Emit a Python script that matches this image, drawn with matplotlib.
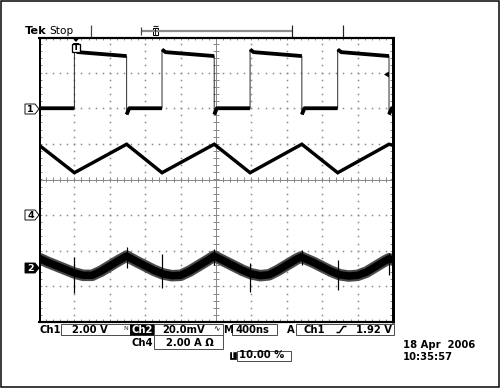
import numpy as np
import matplotlib
matplotlib.use("Agg")
import matplotlib.pyplot as plt
from matplotlib.collections import LineCollection
from matplotlib.patches import Rectangle, Polygon

plt.rcParams['font.family'] = ['DejaVu Sans']

# ---------------- scope settings ----------------
time_per_div = 400.0          # ns / div
trigger_pct = 10.0            # trigger position, % of record
ch1_scale, ch1_pos = 2.0, 2.0     # V/div, offset in divisions
ch2_scale, ch2_pos = 20.0, -2.5   # mV/div
ch4_scale, ch4_pos = 2.0, -1.0    # A/div

# ---------------- data ----------------
# Ch1 : switch node voltage (V) vs time (ns)
ch1_t = [-400, 0, 0, 40, 590, 590, 620,
         990, 990, 1030, 1580, 1580, 1610,
         1985, 1985, 2025, 2570, 2570, 2600,
         2975, 2975, 3015, 3555, 3555, 3585, 3600]
ch1_v = [0.0, 0.0, 3.3, 3.15, 2.93, -0.35, 0.0,
         0.0, 3.3, 3.15, 2.93, -0.35, 0.0,
         0.0, 3.3, 3.15, 2.93, -0.35, 0.0,
         0.0, 3.3, 3.15, 2.93, -0.35, 0.0, 0.0]

# Ch4 : inductor current (A)
ch4_t = [-400, 0, 590, 990, 1580, 1985, 2570, 2975, 3555, 3600]
ch4_i = [3.93, 2.38, 3.98, 2.38, 3.98, 2.38, 3.98, 2.38, 3.98, 3.92]

# Ch2 : output ripple (mV), centre of the noisy trace
ch2_t = [-400, -300, -200, -100, 0, 100, 200, 300, 400, 500, 590,
         700, 800, 900, 1000, 1100, 1200, 1300, 1400, 1500, 1580,
         1700, 1800, 1900, 2000, 2100, 2200, 2300, 2400, 2500, 2560,
         2700, 2800, 2900, 3000, 3100, 3200, 3300, 3400, 3500, 3555, 3600]
ch2_mv = [5.8, 3.5, 1.5, -0.5, -2.5, -3.8, -3.8, -1.5, 1.5, 4.5, 7.0,
          4.0, 1.5, -1.0, -3.0, -4.0, -3.8, -1.5, 1.5, 4.5, 7.0,
          4.0, 1.5, -1.0, -3.0, -4.0, -3.5, -1.0, 2.0, 5.0, 6.5,
          3.5, 1.0, -1.5, -3.5, -4.2, -3.8, -2.0, 1.0, 4.0, 5.5, 5.0]
# switching spikes on Ch2 (mV)
spike_t = [0, 590, 990, 1580, 1985, 2570, 2975, 3555]
spike_hi = [6.5, 12.1, 8.4, 11.2, 3.0, 10.3, 4.7, 8.8]
spike_lo = [-13.7, 0.2, -11.1, 1.9, -13.1, 1.9, -12.2, -3.8]

# ---------------- figure ----------------
W, H = 500, 388
fig = plt.figure(figsize=(W / 100, H / 100), dpi=100)
fig.patch.set_facecolor('white')

L, R, T, B = 39, 393, 37, 322
ax = fig.add_axes([L / W, 1 - B / H, (R - L) / W, (B - T) / H])
x0 = -trigger_pct / 100 * 10 * time_per_div
x1 = x0 + 10 * time_per_div
ax.set_xlim(x0, x1)
ax.set_ylim(-4, 4)
ax.axis('off')

PX = 0.72  # points per pixel
gcol = '#8a8a8a'

# dotted graticule
for k in range(1, 10):
    if k == 5:
        continue
    xg = x0 + k * time_per_div
    yy = np.arange(-3.8, 3.81, 0.2)
    ax.plot(np.full_like(yy, xg), yy, ls='none', marker='s', ms=1.1, mew=0, color=gcol)
for j in [-3, -2, -1, 1, 2, 3]:
    xx = np.arange(x0 + 80, x1 - 79, 80)
    ax.plot(xx, np.full_like(xx, j), ls='none', marker='s', ms=1.1, mew=0, color=gcol)

# centre crosshair with ticks
xc = x0 + 5 * time_per_div
ax.plot([x0, x1], [0, 0], color=gcol, lw=1 * PX)
ax.plot([xc, xc], [-4, 4], color=gcol, lw=1 * PX)
segs = []
for xt in np.arange(x0 + 80, x1 - 79, 80):
    segs.append([(xt, -0.075), (xt, 0.075)])
    segs.append([(xt, 4), (xt, 3.91)])
    segs.append([(xt, -4), (xt, -3.91)])
for yt in np.arange(-3.8, 3.81, 0.2):
    segs.append([(xc - 30, yt), (xc + 30, yt)])
    segs.append([(x0, yt), (x0 + 36, yt)])
    segs.append([(x1, yt), (x1 - 36, yt)])
ax.add_collection(LineCollection(segs, colors=gcol, linewidths=1 * PX))

# ---- traces ----
t1 = np.array(ch1_t, float)
d1 = np.array(ch1_v) / ch1_scale + ch1_pos
ax.plot(t1, d1, color='#303030', lw=1.0 * PX, zorder=5)
tt, vv = [], []
for i in range(len(t1)):
    if i > 0 and t1[i] == t1[i - 1]:
        tt.append(np.nan); vv.append(np.nan)
    tt.append(t1[i]); vv.append(d1[i])
ax.plot(tt, vv, color='black', lw=3.8 * PX, solid_capstyle='butt', zorder=6)

d4 = np.array(ch4_i) / ch4_scale + ch4_pos
ax.plot(ch4_t, d4, color='black', lw=3.4 * PX, solid_joinstyle='miter', zorder=6)

d2 = np.array(ch2_mv) / ch2_scale + ch2_pos
ax.plot(ch2_t, d2, color='#4a4a4a', lw=11.5 * PX, zorder=5, solid_capstyle='butt')
ax.plot(ch2_t, d2, color='black', lw=7.5 * PX, zorder=6, solid_capstyle='butt')
ssegs = [[(t, lo / ch2_scale + ch2_pos), (t, hi / ch2_scale + ch2_pos)]
         for t, lo, hi in zip(spike_t, spike_lo, spike_hi)]
ax.add_collection(LineCollection(ssegs, colors='black', linewidths=1.2 * PX, zorder=7))

# ---------------- overlay (pixel coordinates) ----------------
ov = fig.add_axes([0, 0, 1, 1])
ov.set_xlim(0, W)
ov.set_ylim(H, 0)
ov.axis('off')
ov.set_zorder(10)

def line(xs, ys, lw=1, c='black'):
    ov.plot(xs, ys, color=c, lw=lw * PX, solid_capstyle='butt')

# outer border
ov.add_patch(Rectangle((0.75, 0.75), W - 1.5, H - 1.5, fill=False, ec='black', lw=1.5 * PX))
# screen frame
line([L - 1, R + 1.5], [T + 0.5, T + 0.5], 2.2)
line([L + 0.5, L + 0.5], [T, B + 1], 2)
line([R - 0.5, R - 0.5], [T, B + 1], 3)
line([L - 1, R + 1.5], [B, B], 2.2)

# top status bar
FS = 7.2
ov.text(25, 34.3, 'Tek', fontsize=8.2, fontweight='bold', va='baseline')
ov.text(49.5, 34.3, 'Stop', fontsize=7.6, va='baseline')
line([90.5, 90.5], [25, 37], 1.2, '#444444')
line([140.5, 291.5], [31, 31], 2.2, '#8c8c8c')
line([140.5, 140.5], [26.5, 34.5], 1.2, '#444444')
line([291.5, 291.5], [25, 37], 1.2, '#222222')
line([342.5, 342.5], [25, 37], 1.2, '#222222')
line([152.5, 158], [26, 26], 1.2, '#222222')
ov.add_patch(Rectangle((152.8, 28), 5, 7, fc='white', ec='black', lw=1 * PX))
line([155.3, 155.3], [28, 35], 1.0, '#222222')

# trigger position marker
ov.add_patch(Polygon([(72.5, 38), (79.5, 38), (76, 42)], closed=True, fc='black', ec='none'))
ov.add_patch(Rectangle((71.8, 43.5), 8.2, 8.5, fc='white', ec='black', lw=1.3 * PX))
ov.text(76, 48, 'T', fontsize=6.5, fontweight='bold', ha='center', va='center')

# trigger level marker (right edge)
ov.add_patch(Polygon([(384, 74.5), (389, 71.5), (389, 77.5)], closed=True, fc='black', ec='none'))

# channel markers
def chmark(yc, label, filled):
    pts = [(25, yc - 5), (35, yc - 5), (39, yc), (35, yc + 5), (25, yc + 5)]
    ov.add_patch(Polygon(pts, closed=True, fc='black' if filled else 'white',
                         ec='black', lw=0.9 * PX))
    ov.text(30.5, yc + 0.3, label, fontsize=6.8, fontweight='bold', ha='center', va='center',
            color='white' if filled else 'black')

chmark(109, '1', False)
chmark(215, '4', False)
chmark(268, '2', True)

# bottom readouts
def box(x_a, x_b, y_a, y_b):
    ov.add_patch(Rectangle((x_a, y_a), x_b - x_a, y_b - y_a, fill=False, ec='#505050', lw=1.0 * PX))

def txt(x, y, s, **kw):
    kw.setdefault('fontsize', FS)
    kw.setdefault('fontweight', 'bold')
    ov.text(x, y, s, va='baseline', **kw)

r1a, r1b, base1 = 323.5, 335, 333.3
txt(39.5, base1, 'Ch1')
box(61, 129.5, r1a, r1b)
txt(72.5, base1, '2.00 V')
txt(123, 330.5, 'N', fontsize=4.5, fontweight='normal', color='#333333')
ov.add_patch(Rectangle((130, r1a), 23.5, r1b - r1a, fc='black', ec='black', lw=0.5))
txt(131, base1, 'Ch2', color='white')
box(154.3, 223.3, r1a, r1b)
txt(162.5, base1, '20.0mV')
txt(213.5, 331, '∿', fontsize=5.5, fontweight='normal')
txt(223.5, base1, 'M')
box(232.3, 276.7, r1a, r1b)
txt(235, base1, '400ns')
txt(287, base1, 'A')
box(295.7, 393.5, r1a, r1b)
txt(303, base1, 'Ch1')
line([336.5, 339.5, 343.5, 346.5], [332.5, 332.5, 326.5, 326.5], 1.5)
txt(392, base1, '1.92 V', ha='right')

r2a, r2b, base2 = 335, 348.5, 345.7
txt(131.5, base2, 'Ch4')
box(154.3, 223.3, r2a, r2b)
txt(166, base2, '2.00 A Ω')

ov.add_patch(Rectangle((229.5, 351.5), 6, 7, fc='black', ec='black', lw=0.5))
ov.text(232.5, 355.3, 'T', fontsize=5.5, fontweight='bold', color='white', ha='center', va='center')
box(236.7, 290.7, 350.5, 361)
txt(239.3, 358.5, '10.00 %')

txt(403, 347.7, '18 Apr  2006')
txt(403, 360, '10:35:57')

fig.savefig('out.png', dpi=100)
